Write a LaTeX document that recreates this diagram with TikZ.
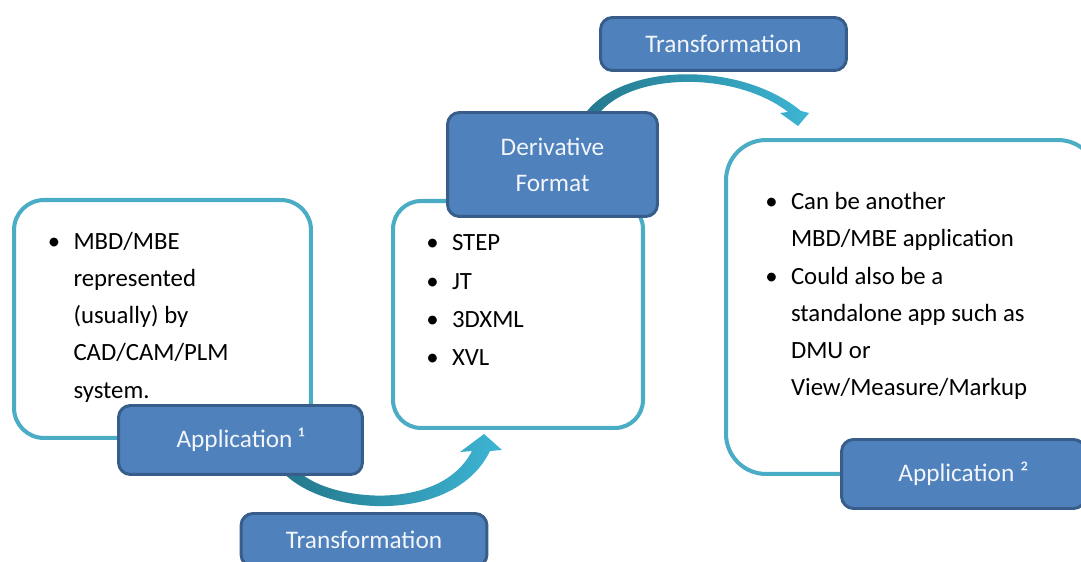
\documentclass[tikz,border=0pt]{standalone}
\usepackage{fontspec}
\setmainfont{Carlito}
\usetikzlibrary{calc,backgrounds}

\definecolor{boxblue}{HTML}{4F81BD}
\definecolor{boxline}{HTML}{385D8A}
\definecolor{tealline}{HTML}{4BACC6}
\definecolor{arrowdark}{HTML}{23788C}
\definecolor{arrowlight}{HTML}{3DB5D4}
\definecolor{labeltext}{HTML}{F2F5FA}

\tikzset{
  infobox/.style={draw=tealline, line width=2.3pt, fill=white, inner sep=0pt},
  stagebox/.style={draw=boxline, line width=1.7pt, fill=boxblue, rounded corners=0.24cm,
    text=labeltext, inner sep=0pt, align=center, font=\fontsize{14.4}{20.4}\selectfont},
  bullets/.style={inner sep=0pt, anchor=north west, align=left, font=\fontsize{14.1}{21.2}\selectfont}
}
\newcommand{\bul}{\makebox[14.6pt][l]{\textbullet}}
\newcommand{\ind}{\hspace*{14.6pt}}

\begin{document}
\begin{tikzpicture}[x=0.02cm, y=0.02cm]
                \useasboundingbox (0,0) rectangle (1081,561);
                \clip (0,0) rectangle (1081,561);

                \node[infobox, rounded corners=0.6cm, minimum width=5.94cm, minimum height=4.76cm] (lbox) at (162.5,242) {};

                \node[infobox, rounded corners=0.56cm, minimum width=5cm, minimum height=4.54cm] (mbox) at (518,246.5) {};

                \node[infobox, rounded corners=0.8cm, minimum width=7.44cm, minimum height=6.68cm] (rbox) at (912,254) {};

                \node[stagebox, minimum width=4.88cm, minimum height=1.38cm] (app1) at (240.5,121) {Application ¹};

                \node[stagebox, minimum width=4.88cm, minimum height=1.38cm] (app2) at (963.5,87) {Application ²};

                \node[stagebox, minimum width=4.2cm, minimum height=2.08cm] (deriv) at (552.5,396.5) {Derivative\\Format};

                \node[stagebox, minimum width=4.92cm, minimum height=1.06cm] (ttop) at (723.5,517) {Transformation};

                \node[stagebox, minimum width=4.92cm, minimum height=1.06cm] (tbot) at (364,21) {Transformation};

                \node[bullets] (ltxt) at ($(lbox.north west)+(35.5,-33.5)$) {\bul MBD/MBE\\\ind represented\\\ind (usually) by\\\ind CAD/CAM/PLM\\\ind system.};

                \node[bullets, font=\fontsize{14.1}{21.7}\selectfont] (mtxt) at ($(mbox.north west)+(35,-35.5)$) {\bul STEP\\\bul JT\\\bul 3DXML\\\bul XVL};

                \node[bullets] (rtxt) at ($(rbox.north west)+(41,-54)$) {\bul Can be another\\\ind MBD/MBE application\\\bul Could also be a\\\ind standalone app such as\\\ind DMU or\\\ind View/Measure/Markup};

                \begin{scope}[on background layer]
                \coordinate (bs) at ($(app1.south)+(51.5,3.5)$);
                \coordinate (bt) at ($(mbox.south)+(-34,-4)$);
                \shade[left color=arrowdark, right color=arrowlight]
                  ($(bs)+(8,0)$) .. controls +(30,-28) and +(-32,-62) .. ($(bt)+(-12,-17)$)
                  -- ($(bt)+(-24,-18)$) -- (bt) -- ($(bt)+(18,-16)$) -- ($(bt)+(6,-17)$)
                  .. controls +(-35,-72) and +(45,-43) .. ($(bs)+(-7,-2)$) -- cycle;

                \coordinate (ts) at ($(deriv.north)+(35.5,-3.5)$);
                \coordinate (tt) at ($(rbox.north west)+(74,12)$);
                \shade[left color=arrowdark, right color=arrowlight]
                  ($(ts)+(7,-5)$) .. controls +(27,47) and +(-55,43) .. ($(tt)+(-10,14)$)
                  -- ($(tt)+(-18,13)$) -- (tt) -- ($(tt)+(11,13)$) -- ($(tt)+(3,15)$)
                  .. controls +(-63,52) and +(34,57) .. ($(ts)+(-7,-5)$) -- cycle;
                \end{scope}
            \end{tikzpicture}
\end{document}
